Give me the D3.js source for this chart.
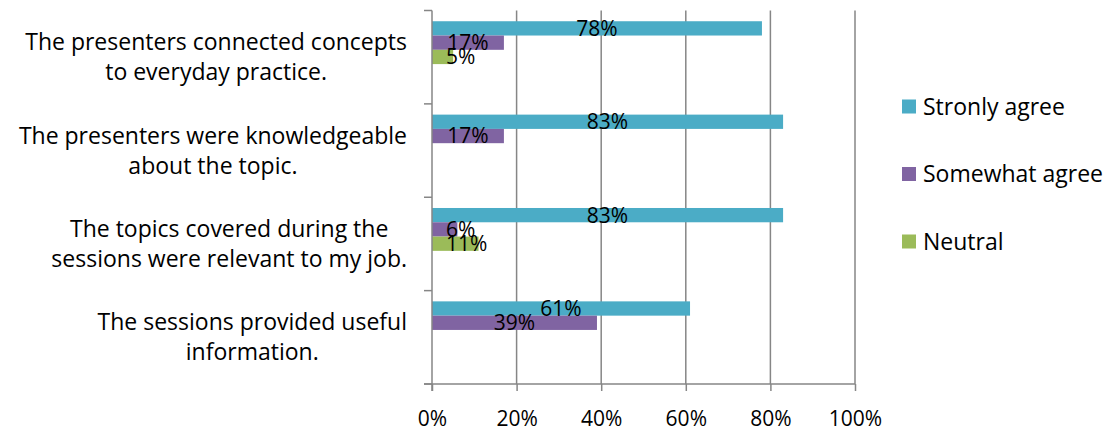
<!DOCTYPE html>
<html><head><meta charset="utf-8">
<script src="https://cdn.jsdelivr.net/npm/d3@7"></script>
<style>
html,body{margin:0;padding:0;background:#fff;}
svg{display:block;font-family:"Open Sans",sans-serif;}
</style></head>
<body>
<svg id="chart" width="1109" height="430"></svg>
<script>
// ---- data ----
const categories = [
  ["The presenters connected concepts", "to everyday practice."],
  ["The presenters were knowledgeable", "about the topic."],
  ["The topics covered during the", "sessions were relevant to my job."],
  ["The sessions provided useful", "information."]
];
const seriesNames = ["Stronly agree", "Somewhat agree", "Neutral"];
const stronglyAgree = [78, 83, 83, 61];
const somewhatAgree = [17, 17, 6, 39];
const neutral = [5, 0, 11, 0];
const tickValues = [0, 20, 40, 60, 80, 100];
const colors = ["#4BACC6", "#8064A2", "#9BBB59"];

const seriesValues = [stronglyAgree, somewhatAgree, neutral];

const svg = d3.select("#chart");
const plot = {left: 432, right: 855, top: 10.5, bottom: 384};
const fs = 21;      // data labels, tick labels
const fsCat = 23;   // category + legend labels
const gridColor = "#868686";

const x = d3.scaleLinear().domain([0, 100]).range([plot.left, plot.right]);
const catIdx = categories.map((d, i) => i);
const y = d3.scaleBand().domain(catIdx).range([plot.top, plot.bottom]).padding(0);
const bw = y.bandwidth();
const barH = bw * 0.153;
const barOff = bw * 0.115;
const ySub = d3.scaleBand().domain(d3.range(seriesNames.length))
  .range([barOff, barOff + barH * seriesNames.length]).padding(0);

// gridlines
const g = svg.append("g");
g.selectAll("line.grid").data(tickValues.slice(1)).join("line")
  .attr("x1", d => x(d)).attr("x2", d => x(d))
  .attr("y1", plot.top).attr("y2", plot.bottom)
  .attr("stroke", gridColor).attr("stroke-width", 1.5);

// bars
const barData = [];
catIdx.forEach(ci => seriesValues.forEach((vals, si) => {
  barData.push({ci, si, v: vals[ci]});
}));
g.selectAll("rect.bar").data(barData.filter(d => d.v > 0)).join("rect")
  .attr("x", x(0))
  .attr("y", d => y(d.ci) + ySub(d.si))
  .attr("width", d => x(d.v) - x(0))
  .attr("height", ySub.bandwidth())
  .attr("fill", d => colors[d.si]);

// y axis line
svg.append("line").attr("x1", plot.left).attr("x2", plot.left)
  .attr("y1", plot.top).attr("y2", plot.bottom + 7)
  .attr("stroke", gridColor).attr("stroke-width", 1.5);
// y ticks at band boundaries
const yBounds = catIdx.map(i => y(i)).concat([plot.bottom]);
svg.selectAll("line.ytick").data(yBounds).join("line")
  .attr("x1", plot.left - 8).attr("x2", plot.left)
  .attr("y1", d => d).attr("y2", d => d)
  .attr("stroke", gridColor).attr("stroke-width", 1.5);

// x axis
const xAxis = d3.axisBottom(x).tickValues(tickValues).tickSize(7)
  .tickFormat(d => d + "%");
const xA = svg.append("g").attr("transform", `translate(0,${plot.bottom})`).call(xAxis);
xA.select(".domain").attr("stroke", gridColor).attr("stroke-width", 1.5)
  .attr("d", `M${plot.left - 8},0H${plot.right}`);
xA.selectAll(".tick line").attr("stroke", gridColor).attr("stroke-width", 1.5);
xA.selectAll(".tick text").attr("font-size", fs).attr("font-family", "Open Sans")
  .attr("fill", "#000").attr("dy", null).attr("y", 42);

// category labels
const lineH = 30;
const labelRight = 407;
categories.forEach((lines, ci) => {
  const t = svg.append("text").attr("font-size", fsCat).attr("fill", "#000")
    .attr("text-anchor", "middle");
  const cy = y(ci) + bw / 2;
  const spans = lines.map((ln, li) => t.append("tspan").text(ln)
    .attr("y", cy + (li - (lines.length - 1) / 2) * lineH + fsCat * 0.35));
  const maxW = d3.max(spans, s => s.node().getComputedTextLength());
  spans.forEach(s => s.attr("x", labelRight - maxW / 2));
});

// data labels
const lbl = svg.append("g").attr("font-size", fs).attr("fill", "#000").attr("text-anchor", "middle");
barData.filter(d => d.v > 0).forEach(d => {
  const t = lbl.append("text").text(d.v + "%")
    .attr("y", y(d.ci) + ySub(d.si) + ySub.bandwidth() / 2 + fs * 0.355);
  const w = t.node().getComputedTextLength();
  const cx = (x(0) + x(d.v)) / 2;
  t.attr("x", Math.max(cx, x(0) + 14 + w / 2));
});

// legend
const legY0 = 99.5, legStep = 67.5;
const leg = svg.append("g");
seriesNames.forEach((name, i) => {
  leg.append("rect").attr("x", 902).attr("y", legY0 + i * legStep)
    .attr("width", 14).attr("height", 14).attr("fill", colors[i]);
  leg.append("text").attr("x", 923).attr("y", legY0 + i * legStep + 15)
    .attr("font-size", fsCat).attr("fill", "#000").text(name);
});
</script>
</body></html>
